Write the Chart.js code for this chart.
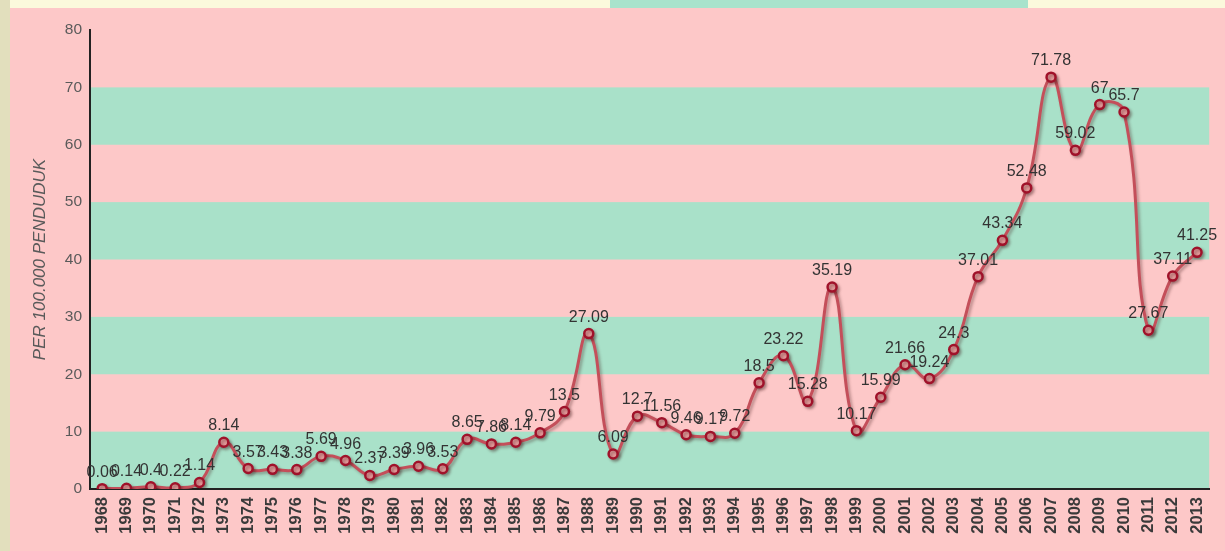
<!DOCTYPE html>
<html>
<head>
<meta charset="utf-8">
<script src="https://cdn.jsdelivr.net/npm/chart.js@4"></script>
<style>
    html, body { margin: 0; padding: 0; }
    body { width: 1225px; height: 551px; position: relative; overflow: hidden; background: #fbf9dc; }
    #left-strip { position: absolute; left: 0; top: 0; width: 10px; height: 551px; background: #e2dfbd; }
    #panel { position: absolute; left: 10px; top: 8px; right: 0; bottom: 0; background: #fdc8c8; }
    #tab { position: absolute; left: 610px; top: 0; width: 418px; height: 8px; background: #a8e3cc; }
    #wrap { position: absolute; left: 0; top: 0; width: 1225px; height: 551px; }
</style>
</head>
<body>
<div id="left-strip"></div>
<div id="panel"></div>
<div id="tab"></div>
<div id="wrap"><canvas id="chart"></canvas></div>
<script>
document.addEventListener('DOMContentLoaded', () => {
    const years = ['1968', '1969', '1970', '1971', '1972', '1973', '1974', '1975', '1976', '1977',
                   '1978', '1979', '1980', '1981', '1982', '1983', '1984', '1985', '1986', '1987',
                   '1988', '1989', '1990', '1991', '1992', '1993', '1994', '1995', '1996', '1997',
                   '1998', '1999', '2000', '2001', '2002', '2003', '2004', '2005', '2006', '2007',
                   '2008', '2009', '2010', '2011', '2012', '2013'];
    const rates = [0.06, 0.14, 0.4, 0.22, 1.14, 8.14, 3.57, 3.43, 3.38, 5.69,
                   4.96, 2.37, 3.39, 3.96, 3.53, 8.65, 7.86, 8.14, 9.79, 13.5,
                   27.09, 6.09, 12.7, 11.56, 9.46, 9.17, 9.72, 18.5, 23.22, 15.28,
                   35.19, 10.17, 15.99, 21.66, 19.24, 24.3, 37.01, 43.34, 52.48, 71.78,
                   59.02, 67, 65.7, 27.67, 37.11, 41.25];
    // alternating horizontal bands behind the plot
    const bands = [[0, 10], [20, 30], [40, 50], [60, 70]];

    const font = '"Liberation Sans", Arial, sans-serif';

    const bandPlugin = {
        id: 'bands',
        beforeDraw(chart) {
            const { ctx, chartArea, scales } = chart;
            ctx.save();
            ctx.fillStyle = '#fdc8c8';
            ctx.fillRect(chartArea.left, chartArea.top, chartArea.right - chartArea.left, chartArea.bottom - chartArea.top);
            ctx.fillStyle = '#a9e1c9';
            for (const [lo, hi] of bands) {
                const y1 = scales.y.getPixelForValue(hi);
                const y2 = scales.y.getPixelForValue(lo);
                ctx.fillRect(chartArea.left, y1, chartArea.right - chartArea.left, y2 - y1);
            }
            ctx.restore();
        }
    };

    const shadowPlugin = {
        id: 'lineShadow',
        beforeDatasetDraw(chart) {
            const ctx = chart.ctx;
            ctx.save();
            ctx.shadowColor = 'rgba(60, 20, 20, 0.35)';
            ctx.shadowBlur = 3;
            ctx.shadowOffsetX = 2;
            ctx.shadowOffsetY = 2;
        },
        afterDatasetDraw(chart) {
            chart.ctx.restore();
        }
    };

    const labelPlugin = {
        id: 'valueLabels',
        afterDatasetsDraw(chart) {
            const { ctx } = chart;
            const meta = chart.getDatasetMeta(0);
            ctx.save();
            ctx.font = '16px ' + font;
            ctx.fillStyle = '#333333';
            ctx.textAlign = 'center';
            ctx.textBaseline = 'alphabetic';
            meta.data.forEach((pt, i) => {
                ctx.fillText(String(rates[i]), pt.x, pt.y - 12);
            });
            ctx.restore();
        }
    };

    new Chart(document.getElementById('chart'), {
        type: 'line',
        data: {
            labels: years,
            datasets: [{
                data: rates,
                borderColor: '#c44f5a',
                borderWidth: 3,
                tension: 0.45,
                pointRadius: 4.5,
                pointBorderWidth: 2.5,
                pointBorderColor: '#a0122a',
                pointBackgroundColor: '#e49a9a',
                fill: false
            }]
        },
        options: {
            responsive: true,
            maintainAspectRatio: false,
            animation: false,
            layout: { padding: { left: 10, top: 30, right: 15, bottom: 4 } },
            plugins: {
                legend: { display: false },
                tooltip: { enabled: false }
            },
            scales: {
                x: {
                    offset: true,
                    grid: { display: false, drawTicks: false },
                    border: { color: '#222222', width: 2 },
                    ticks: {
                        autoSkip: false,
                        maxRotation: 90,
                        minRotation: 90,
                        padding: 8,
                        color: '#3a3a3a',
                        font: { family: font, size: 16.5, weight: 'bold' }
                    },
                    afterFit(scale) { scale.height = 58; }
                },
                y: {
                    min: 0,
                    max: 80,
                    grid: { display: false, drawTicks: false },
                    border: { color: '#222222', width: 2 },
                    ticks: {
                        stepSize: 10,
                        padding: 8,
                        color: '#5a5a5a',
                        font: { family: font, size: 15.5 }
                    },
                    title: {
                        display: true,
                        text: 'PER 100.000 PENDUDUK',
                        color: '#5a5a5a',
                        padding: { top: 20, bottom: 0 },
                        font: { family: font, size: 17, style: 'italic' }
                    },
                    afterFit(scale) { scale.width = 80; }
                }
            }
        },
        plugins: [bandPlugin, shadowPlugin, labelPlugin]
    });
});
</script>
</body>
</html>
